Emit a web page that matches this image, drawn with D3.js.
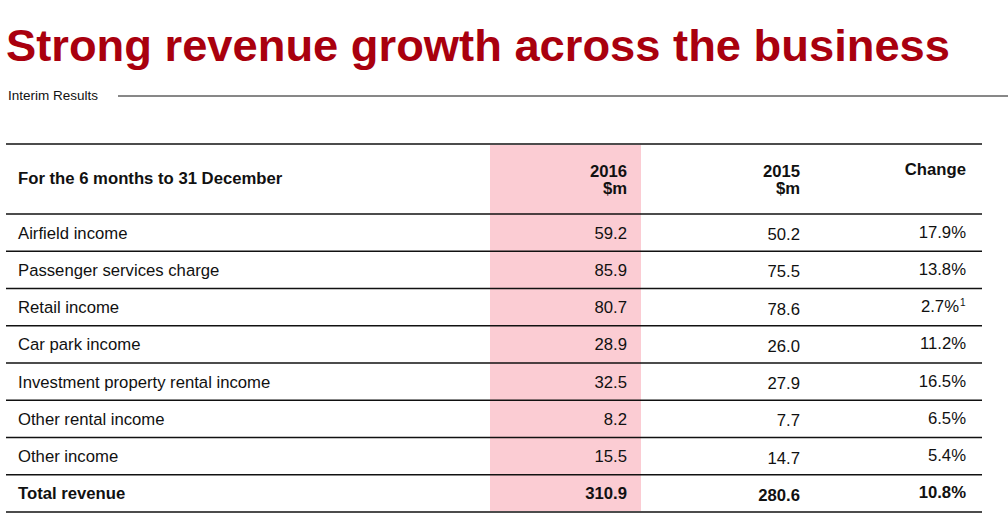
<!DOCTYPE html>
<html>
<head>
<meta charset="utf-8">
<script src="https://cdn.jsdelivr.net/npm/d3@7"></script>
<style>
  html, body { margin: 0; padding: 0; background: #fff; }
  svg { display: block; font-family: "Liberation Sans", Arial, sans-serif; }
</style>
</head>
<body>
<svg id="chart" width="1008" height="526"></svg>
<script>
const titleText = "Strong revenue growth across the business";
const subtitleText = "Interim Results";
const headerLabel = "For the 6 months to 31 December";
const columnHeaders = [["2016", "$m"], ["2015", "$m"], ["Change"]];
const categories = [
  "Airfield income",
  "Passenger services charge",
  "Retail income",
  "Car park income",
  "Investment property rental income",
  "Other rental income",
  "Other income",
  "Total revenue"
];
const values2016 = [59.2, 85.9, 80.7, 28.9, 32.5, 8.2, 15.5, 310.9];
const values2015 = [50.2, 75.5, 78.6, 26.0, 27.9, 7.7, 14.7, 280.6];
const changes = ["17.9%", "13.8%", "2.7%", "11.2%", "16.5%", "6.5%", "5.4%", "10.8%"];
const footnotes = ["", "", "1", "", "", "", "", ""];

const svg = d3.select("#chart");
const fmt = d3.format(".1f");
const fs = 16.7;

// Title
svg.append("text")
  .attr("x", 6).attr("y", 61)
  .attr("font-size", 44).attr("font-weight", "bold")
  .attr("fill", "#a9000e")
  .attr("textLength", 944).attr("lengthAdjust", "spacingAndGlyphs")
  .text(titleText);

svg.append("text")
  .attr("x", 8).attr("y", 100)
  .attr("font-size", 13.5).attr("fill", "#111")
  .text(subtitleText);

svg.append("line")
  .attr("x1", 118).attr("x2", 1008).attr("y1", 96).attr("y2", 96)
  .attr("stroke", "#111").attr("stroke-width", 1);

// Table geometry
const tableLeft = 6, tableRight = 982;
const headerTop = 144, bodyTop = 214, bodyBottom = 512;
const y = d3.scaleBand().domain(categories).range([bodyTop, bodyBottom]);
const colRight = [627, 800, 966];

// Highlight column
svg.append("rect")
  .attr("x", 490).attr("width", 151)
  .attr("y", headerTop + 1).attr("height", bodyBottom - headerTop - 2)
  .attr("fill", "#fbccd3");

// Horizontal rules
const ruleYs = [headerTop, bodyTop].concat(categories.map(c => y(c) + y.bandwidth()));
svg.selectAll("line.rule").data(ruleYs).enter().append("line")
  .attr("class", "rule")
  .attr("x1", tableLeft).attr("x2", tableRight)
  .attr("y1", d => d).attr("y2", d => d)
  .attr("stroke", "#111").attr("stroke-width", 1.3);

// Header
svg.append("text")
  .attr("x", 18).attr("y", 184)
  .attr("font-size", fs).attr("font-weight", "bold").attr("fill", "#111")
  .text(headerLabel);

columnHeaders.forEach((lines, i) => {
  lines.forEach((t, j) => {
    svg.append("text")
      .attr("x", colRight[i]).attr("y", (i === 2 ? 175 : 177) + j * 17)
      .attr("text-anchor", "end")
      .attr("font-size", fs).attr("font-weight", "bold").attr("fill", "#111")
      .text(t);
  });
});

// Body
const rows = svg.selectAll("g.row").data(categories).enter().append("g")
  .attr("class", "row")
  .attr("transform", d => `translate(0,${y(d) + y.bandwidth() / 2 + 6})`)
  .attr("font-size", fs).attr("fill", "#111")
  .attr("font-weight", (d, i) => i === categories.length - 1 ? "bold" : "normal");

rows.append("text").attr("x", 18).text(d => d);
rows.append("text").attr("x", colRight[0]).attr("text-anchor", "end")
  .text((d, i) => fmt(values2016[i]));
rows.append("text").attr("x", colRight[1]).attr("y", 1.5).attr("text-anchor", "end")
  .text((d, i) => fmt(values2015[i]));
rows.append("text").attr("x", colRight[2]).attr("y", -1).attr("text-anchor", "end")
  .each(function(d, i) {
    const t = d3.select(this);
    if (footnotes[i]) {
      t.attr("x", colRight[2] - 7);
      t.text(changes[i]);
      d3.select(this.parentNode).append("text")
        .attr("x", colRight[2] - 6).attr("y", -7)
        .attr("font-size", 10)
        .text(footnotes[i]);
    } else {
      t.text(changes[i]);
    }
  });
</script>
</body>
</html>
